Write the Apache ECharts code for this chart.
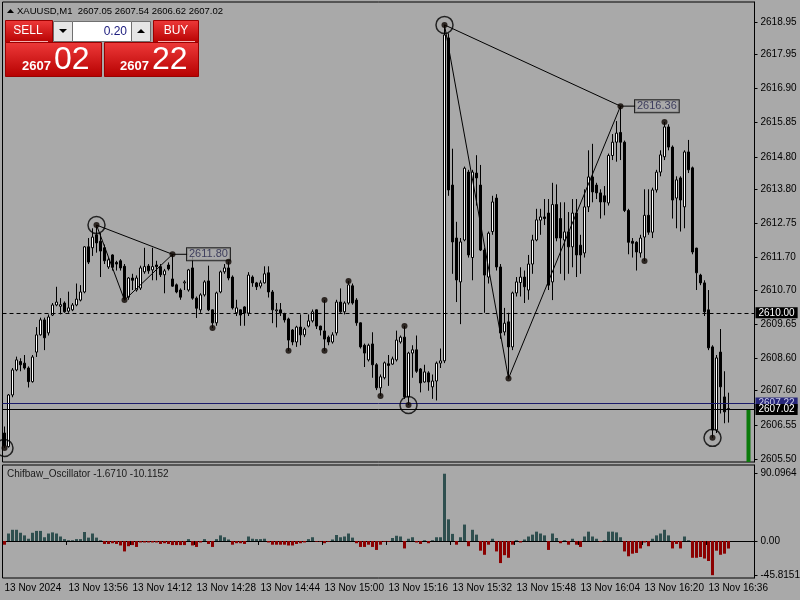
<!DOCTYPE html>
<html><head><meta charset="utf-8">
<script src="https://cdn.jsdelivr.net/npm/echarts@6/dist/echarts.min.js"></script>
<style>html,body{margin:0;padding:0;background:#a9a9a9}#c{width:800px;height:600px}</style>
</head><body><div id="c"></div>
<script>
// ---- data ----
const priceTicks = [2618.95,2617.95,2616.90,2615.85,2614.80,2613.80,2612.75,2611.70,2610.70,2609.65,2608.60,2607.60,2606.55,2605.50];
const oscTicks = [90.0964, 0, -45.8151];
const timeLabels = ['13 Nov 2024','13 Nov 13:56','13 Nov 14:12','13 Nov 14:28','13 Nov 14:44','13 Nov 15:00','13 Nov 15:16','13 Nov 15:32','13 Nov 15:48','13 Nov 16:04','13 Nov 16:20','13 Nov 16:36'];
// [open, high, low, close] per M1 bar from 13:40
const ohlc = [
[2606.30,2606.50,2605.84,2605.90],[2605.88,2607.50,2605.85,2607.47],[2607.47,2608.30,2607.40,2608.24],[2608.24,2608.65,2608.20,2608.55],
[2608.50,2608.60,2608.20,2608.40],[2608.45,2608.70,2608.25,2608.30],[2608.30,2608.35,2607.70,2607.88],[2607.88,2608.70,2607.85,2608.64],
[2608.79,2609.56,2608.64,2609.32],[2609.32,2609.85,2609.30,2609.78],[2609.78,2609.85,2608.85,2609.23],[2609.38,2609.95,2609.30,2609.87],
[2609.93,2610.30,2609.90,2610.24],[2610.24,2610.80,2610.20,2610.33],[2610.20,2610.45,2609.95,2610.25],[2610.30,2610.35,2610.00,2610.03],
[2610.05,2610.65,2610.00,2610.15],[2610.09,2610.30,2610.05,2610.24],[2610.24,2610.90,2610.20,2610.42],[2610.39,2610.85,2610.35,2610.64],
[2610.64,2612.05,2610.60,2612.03],[2612.03,2612.30,2611.50,2611.56],[2612.00,2612.60,2611.75,2612.33],[2612.40,2612.70,2611.85,2612.15],
[2612.20,2612.45,2611.10,2611.90],[2612.00,2612.10,2611.50,2611.60],[2611.41,2611.70,2611.35,2611.63],[2611.78,2611.80,2611.30,2611.40],
[2611.55,2611.60,2611.30,2611.50],[2611.60,2611.65,2611.30,2611.38],[2611.43,2611.50,2610.39,2610.45],[2610.48,2611.10,2610.40,2611.07],
[2611.07,2611.20,2610.70,2611.00],[2610.70,2611.15,2610.65,2611.07],[2610.76,2611.45,2610.70,2611.38],[2611.26,2612.00,2611.20,2611.42],
[2611.44,2611.50,2611.20,2611.29],[2611.32,2612.00,2611.00,2611.42],[2611.47,2611.60,2611.00,2611.42],[2611.42,2611.50,2611.10,2611.17],
[2611.17,2611.35,2610.60,2611.29],[2611.47,2611.55,2611.30,2611.35],[2611.04,2611.80,2610.80,2610.82],[2610.86,2610.90,2610.60,2610.64],
[2610.70,2610.75,2610.40,2610.48],[2610.92,2611.00,2610.70,2610.95],[2610.70,2611.35,2610.65,2611.32],[2611.38,2611.75,2610.40,2610.45],
[2610.45,2610.50,2609.84,2610.14],[2610.09,2610.60,2610.00,2610.55],[2610.55,2611.00,2610.50,2610.95],[2610.98,2611.45,2610.05,2610.09],
[2610.09,2610.10,2609.53,2609.69],[2609.69,2610.65,2609.60,2610.61],[2610.64,2611.30,2610.60,2611.26],[2611.26,2611.50,2611.20,2611.38],
[2611.38,2611.57,2611.00,2611.07],[2611.10,2611.15,2610.10,2610.15],[2610.00,2610.40,2609.90,2610.15],[2610.09,2610.10,2609.60,2609.93],
[2610.18,2610.20,2609.60,2609.99],[2609.99,2611.25,2609.90,2611.16],[2611.10,2611.15,2610.80,2610.92],[2610.92,2610.95,2610.70,2610.80],
[2610.82,2611.00,2610.75,2610.92],[2610.92,2611.43,2610.90,2611.20],[2611.23,2611.43,2610.47,2610.64],[2610.64,2610.70,2609.68,2610.09],
[2610.06,2610.30,2609.55,2610.09],[2610.09,2610.30,2609.90,2609.99],[2609.96,2610.00,2609.70,2609.78],[2609.81,2609.85,2608.83,2609.16],
[2609.47,2609.50,2609.00,2609.10],[2609.10,2609.60,2608.95,2609.56],[2609.56,2609.95,2609.00,2609.32],[2609.32,2609.55,2609.25,2609.50],
[2609.59,2609.95,2609.55,2609.75],[2609.75,2610.10,2609.70,2610.03],[2610.09,2610.10,2609.50,2609.59],[2609.59,2609.60,2609.30,2609.47],
[2609.44,2610.39,2608.83,2609.19],[2609.25,2609.30,2609.00,2609.10],[2609.10,2609.40,2609.05,2609.32],[2609.38,2610.40,2609.30,2610.33],
[2610.33,2610.75,2610.00,2610.03],[2610.03,2610.35,2609.95,2610.30],[2610.30,2610.98,2610.25,2610.86],[2610.83,2610.90,2610.25,2610.30],
[2610.39,2610.45,2609.60,2609.69],[2609.69,2609.70,2608.90,2608.95],[2609.00,2609.05,2608.33,2608.76],[2608.55,2609.05,2608.50,2609.00],
[2609.04,2609.40,2608.00,2608.40],[2608.40,2608.45,2607.62,2607.69],[2607.69,2608.10,2607.44,2608.03],[2608.00,2608.50,2607.95,2608.46],
[2608.43,2608.70,2607.75,2608.38],[2608.42,2608.65,2608.40,2608.58],[2608.55,2609.45,2608.50,2609.16],[2609.10,2609.30,2609.05,2609.25],
[2609.25,2609.59,2607.35,2607.41],[2607.41,2608.80,2607.16,2608.76],[2608.76,2609.00,2608.00,2608.86],[2608.86,2609.30,2608.15,2608.20],
[2608.27,2608.30,2607.55,2607.84],[2607.87,2608.40,2607.85,2608.18],[2608.15,2608.20,2607.60,2607.87],[2607.72,2608.10,2607.35,2607.90],
[2607.90,2608.50,2607.30,2608.45],[2608.45,2608.90,2608.30,2608.52],[2608.52,2618.86,2608.45,2618.55],[2618.46,2618.60,2613.60,2613.78],
[2613.93,2615.05,2611.20,2612.18],[2612.30,2612.80,2610.33,2611.01],[2610.95,2612.30,2609.65,2612.18],[2612.24,2614.50,2612.20,2614.45],
[2614.33,2614.40,2611.70,2611.78],[2611.70,2614.40,2611.00,2614.33],[2614.30,2614.85,2613.30,2614.15],[2613.93,2614.55,2611.90,2611.93],
[2611.93,2612.00,2610.00,2611.16],[2611.10,2612.50,2610.90,2612.45],[2612.50,2613.60,2612.40,2613.41],[2613.53,2613.65,2611.30,2611.41],
[2611.41,2611.50,2609.20,2609.38],[2609.41,2610.15,2609.30,2609.68],[2609.72,2610.00,2607.98,2608.95],[2608.95,2610.65,2608.85,2610.61],
[2610.61,2611.10,2610.50,2610.95],[2610.93,2611.40,2610.50,2611.10],[2611.10,2611.30,2610.30,2610.80],[2610.70,2611.78,2610.40,2611.50],
[2611.50,2612.40,2611.20,2612.24],[2612.24,2613.20,2612.20,2612.86],[2612.85,2613.20,2612.40,2612.95],[2612.95,2613.50,2612.70,2612.90],
[2613.07,2613.50,2610.70,2610.85],[2610.95,2614.00,2610.39,2613.33],[2613.33,2613.95,2612.20,2612.30],[2612.90,2613.40,2611.20,2612.30],
[2612.24,2613.40,2611.00,2612.49],[2612.49,2613.10,2611.20,2612.03],[2612.03,2613.50,2611.40,2613.07],[2613.07,2613.50,2611.10,2611.78],
[2612.08,2612.40,2611.20,2611.78],[2611.84,2613.80,2611.70,2613.26],[2613.26,2615.00,2613.10,2614.18],[2614.18,2615.20,2613.40,2613.72],
[2613.93,2614.00,2613.50,2613.69],[2613.69,2613.80,2612.90,2613.41],[2613.60,2613.90,2613.00,2613.41],[2613.38,2614.90,2613.30,2614.84],
[2614.84,2615.50,2614.70,2615.25],[2615.25,2615.90,2614.65,2615.53],[2615.55,2616.36,2614.70,2615.25],[2615.25,2615.30,2613.10,2613.15],
[2613.15,2613.20,2611.80,2612.17],[2612.20,2612.30,2611.70,2612.14],[2612.17,2612.20,2611.30,2611.87],[2611.84,2612.40,2611.70,2612.30],
[2612.33,2613.80,2611.59,2613.00],[2613.00,2613.80,2612.40,2612.48],[2612.48,2613.85,2612.30,2613.78],[2613.78,2614.40,2613.70,2614.33],
[2614.33,2615.00,2614.20,2614.86],[2614.80,2615.87,2614.70,2615.72],[2615.72,2615.80,2615.00,2615.10],[2615.10,2615.15,2612.90,2613.47],
[2613.53,2614.20,2612.60,2614.09],[2614.15,2614.20,2612.50,2613.47],[2613.26,2615.00,2612.60,2614.95],[2614.95,2615.32,2614.30,2614.40],
[2614.46,2614.50,2611.80,2611.87],[2611.99,2612.00,2610.70,2611.23],[2611.16,2611.20,2610.85,2610.92],[2610.92,2611.00,2609.90,2610.03],
[2610.09,2610.70,2608.85,2608.92],[2608.95,2609.00,2606.15,2606.39],[2606.39,2608.70,2606.30,2608.61],[2608.79,2609.50,2606.90,2607.72],
[2607.41,2608.20,2606.60,2606.95],[2607.05,2607.54,2606.62,2607.02]
];
const oscValues = [
-5,10,15,15,11,7.5,3,11,13.5,13.5,5,10,11.5,10,6,2.5,1,1,2.5,2.5,12,4.5,10,4.5,1,-4,-4,-3,-4,-6,-14,-7,-5.5,-8,-2,-2,-2,-2,-2,-4,
-3,-4,-5.5,-5.5,-5.5,-5.5,2.5,-6,-8,-2,2.5,-4,-8,2.5,7.5,5,2,-5,-3,-3,-4,6,3,2.5,2.5,3,-2,-5,-5,-5,-5,-6,-6,-4,-3,-2,2.5,5,-1,-1,
-3,-1,2,8,5,6,10,4.5,-3,-8,-8,-5,-8,-12,-5,-1,-1,4,7,
6,-10,3,5,-2,-4,1,-3,1,5,5,90.0964,29,9.5,-5,5,22,-7,15,8.5,-13,-18.5,-5,3,-14,-29.6,-19,-22.5,-5,1,-2,2,6,8.5,12.5,10,7.5,-12,10,4,
-3,1,-5,3,-5,-8,6,12.5,6,3,-1,1,12.5,12.5,11.5,5,-14,-20.5,-17,-16,-10,-2,-7,3,7.5,10,15,7.5,-10,-4,-10,6,1,-22.5,-22.5,-21.5,-23.5,-26.8,
-45.8151,-13,-18.5,-17,-10.1152
];
const levelDashed = 2610.00, askPrice = 2607.22, bidPrice = 2607.02;
const swingCircles = [[0,2605.84],[23,2612.70],[101,2607.16],[110,2618.86],[177,2606.15]];
const swingDots = [[0,2605.84],[23,2612.70],[30,2610.39],[42,2611.80],[52,2609.53],[56,2611.57],[71,2608.83],[80,2610.39],[80,2608.83],
  [86,2610.98],[94,2607.44],[100,2609.59],[101,2607.16],[110,2618.86],[126,2607.98],[154,2616.36],[160,2611.59],[165,2615.87],[177,2606.15]];
const patternA = [[42,2611.80],[23,2612.70],[30,2610.39],[42,2611.80]];
const patternB = [[154,2616.36],[110,2618.86],[126,2607.98],[154,2616.36]];
const tagA = [[42,2611.80],[46,2611.80]];
const tagB = [[154,2616.36],[158,2616.36]];
const liveBar = [186, 2605.41, 2607.02, 2605.41, 2618.83]; // [index, open, close, low, high]

// ---- build ----
const NCAT = 188;
const cats = Array.from({length: NCAT}, (_, i) => String(i));
const candleData = ohlc.map(r => [r[0], r[3], r[2], r[1]]);
const liveData = cats.map((c, i) => i === liveBar[0] ? liveBar.slice(1) : '-');
const FONT = 'Liberation Sans';
const chart = echarts.init(document.getElementById('c'), null, {renderer: 'canvas'});

function redGrad() {
  return new echarts.graphic.LinearGradient(0, 0, 0, 1, [{offset: 0, color: '#ee3a3a'}, {offset: 1, color: '#b60000'}]);
}

const option = {
  animation: false,
  backgroundColor: '#a9a9a9',
  textStyle: {fontFamily: FONT},
  grid: [
    {left: 2.5, top: 2, width: 752, height: 460, show: true, borderColor: '#000', borderWidth: 1, backgroundColor: 'transparent', containLabel: false, outerBoundsMode: 'none'},
    {left: 2.5, top: 465, width: 752, height: 113, show: true, borderColor: '#000', borderWidth: 1, backgroundColor: 'transparent', containLabel: false, outerBoundsMode: 'none'}
  ],
  xAxis: [
    {type: 'category', gridIndex: 0, data: cats, boundaryGap: true, axisLine: {show: false}, axisTick: {show: false}, axisLabel: {show: false}, splitLine: {show: false}},
    {type: 'category', gridIndex: 1, data: cats, boundaryGap: true,
      axisLine: {show: true, lineStyle: {color: '#000'}},
      axisTick: {show: true, interval: 15, length: 4, lineStyle: {color: '#000'}},
      axisLabel: {interval: 15, align: 'left', margin: 5, fontSize: 10, color: '#000', fontFamily: FONT, hideOverlap: false,
        formatter: (v, i) => (i % 16 === 0 && timeLabels[i / 16]) ? timeLabels[i / 16] : ''},
      splitLine: {show: false}}
  ],
  yAxis: [
    {type: 'value', gridIndex: 0, position: 'right', min: 2605.407, max: 2619.565, scale: true,
      axisLine: {show: true, lineStyle: {color: '#000'}},
      axisTick: {show: true, customValues: priceTicks, length: 3, lineStyle: {color: '#000'}},
      axisLabel: {customValues: priceTicks, formatter: v => v.toFixed(2), margin: 6, fontSize: 10, color: '#000', fontFamily: FONT},
      splitLine: {show: false}},
    {type: 'value', gridIndex: 1, position: 'right', min: -49.6, max: 101.8,
      axisLine: {show: true, lineStyle: {color: '#000'}},
      axisTick: {show: true, customValues: oscTicks, length: 3, lineStyle: {color: '#000'}},
      axisLabel: {customValues: oscTicks, formatter: v => v === 0 ? '0.00' : String(v), margin: 6, fontSize: 10, color: '#000', fontFamily: FONT},
      splitLine: {show: false}}
  ],
  series: [
    {type: 'candlestick', xAxisIndex: 0, yAxisIndex: 0, barWidth: 2, data: candleData, z: 3,
      itemStyle: {color: '#fff', color0: '#000', borderColor: '#000', borderColor0: '#000', borderWidth: 1},
      markLine: {silent: true, symbol: ['none', 'none'], animation: false,
        label: {position: 'end', distance: 1, fontSize: 10, fontFamily: FONT, padding: [1, 3, 0, 3], lineHeight: 10},
        data: [
          {yAxis: levelDashed, lineStyle: {color: '#000', type: [4, 3], width: 1}, label: {formatter: levelDashed.toFixed(2), backgroundColor: '#000', color: '#fff'}},
          {yAxis: askPrice, lineStyle: {color: '#1a1a6a', type: 'solid', width: 1}, label: {formatter: askPrice.toFixed(2), backgroundColor: '#26267a', color: '#c8c8e8'}},
          {yAxis: bidPrice, lineStyle: {color: '#000', type: 'solid', width: 1}, label: {formatter: bidPrice.toFixed(2), backgroundColor: '#000', color: '#fff'}}
        ]}},
    {type: 'candlestick', xAxisIndex: 0, yAxisIndex: 0, barWidth: 4, data: liveData, z: 2,
      itemStyle: {color: '#0a7a0a', color0: '#0a7a0a', borderColor: '#0a7a0a', borderColor0: '#0a7a0a', borderWidth: 0}},
    {type: 'line', xAxisIndex: 0, yAxisIndex: 0, data: patternA, symbol: 'none', lineStyle: {color: '#000', width: 1}, z: 5, silent: true},
    {type: 'line', xAxisIndex: 0, yAxisIndex: 0, data: patternB, symbol: 'none', lineStyle: {color: '#000', width: 1}, z: 5, silent: true},
    {type: 'line', xAxisIndex: 0, yAxisIndex: 0, data: tagA, symbol: 'none', lineStyle: {color: '#000', width: 1}, z: 5, silent: true},
    {type: 'line', xAxisIndex: 0, yAxisIndex: 0, data: tagB, symbol: 'none', lineStyle: {color: '#000', width: 1}, z: 5, silent: true},
    {type: 'scatter', xAxisIndex: 0, yAxisIndex: 0, data: [tagA[1], tagB[1]], symbolSize: 1, itemStyle: {color: 'rgba(0,0,0,0)'}, z: 6,
      label: {show: true, position: 'right', distance: 0, offset: [-2, 0], formatter: p => p.value[1].toFixed(2),
        color: '#23234a', fontSize: 11, fontFamily: FONT, borderColor: '#000', borderWidth: 1, padding: [1, 2, 0, 2], backgroundColor: '#a9a9a9'}},
    {type: 'scatter', xAxisIndex: 0, yAxisIndex: 0, data: swingDots, symbol: 'circle', symbolSize: 6, itemStyle: {color: '#0d0500'}, z: 7},
    {type: 'scatter', xAxisIndex: 0, yAxisIndex: 0, data: swingCircles, symbol: 'circle', symbolSize: 17,
      itemStyle: {color: 'rgba(0,0,0,0)', borderColor: '#000', borderWidth: 1.5}, z: 7},
    {type: 'bar', xAxisIndex: 1, yAxisIndex: 1, barWidth: 3,
      data: oscValues.map(v => ({value: v, itemStyle: {color: v >= 0 ? '#2f4f4f' : '#8b0000'}}))}
  ],
  graphic: [
    {type: 'polygon', shape: {points: [[7, 13], [10.5, 9], [14, 13]]}, style: {fill: '#000'}},
    {type: 'text', x: 17, y: 11, style: {text: 'XAUUSD,M1  2607.05 2607.54 2606.62 2607.02', fill: '#000', font: '9.5px ' + FONT, verticalAlign: 'middle', textVerticalAlign: 'middle'}},
    // SELL button
    {type: 'rect', shape: {x: 5.5, y: 20.5, width: 47, height: 22}, style: {fill: redGrad(), stroke: '#9a0000', lineWidth: 1}},
    {type: 'text', x: 28, y: 31, style: {text: 'SELL', fill: '#fff', font: '12px ' + FONT, align: 'center', verticalAlign: 'middle', textAlign: 'center', textVerticalAlign: 'middle'}},
    {type: 'line', shape: {x1: 10, y1: 41.5, x2: 48, y2: 41.5}, style: {stroke: '#f3b0b0', lineWidth: 1}},
    // lot size box
    {type: 'rect', shape: {x: 53.5, y: 21.5, width: 19, height: 20}, style: {fill: '#e6e6e6', stroke: '#707070', lineWidth: 1}},
    {type: 'polygon', shape: {points: [[59, 29], [67, 29], [63, 33]]}, style: {fill: '#000'}},
    {type: 'rect', shape: {x: 72.5, y: 21.5, width: 59, height: 20}, style: {fill: '#fff', stroke: '#707070', lineWidth: 1}},
    {type: 'text', x: 127, y: 31.5, style: {text: '0.20', fill: '#202080', font: '12px ' + FONT, align: 'right', verticalAlign: 'middle', textAlign: 'right', textVerticalAlign: 'middle'}},
    {type: 'rect', shape: {x: 131.5, y: 21.5, width: 19, height: 20}, style: {fill: '#e6e6e6', stroke: '#707070', lineWidth: 1}},
    {type: 'polygon', shape: {points: [[137, 33], [145, 33], [141, 29]]}, style: {fill: '#000'}},
    // BUY button
    {type: 'rect', shape: {x: 153.5, y: 20.5, width: 45, height: 22}, style: {fill: redGrad(), stroke: '#9a0000', lineWidth: 1}},
    {type: 'text', x: 176, y: 31, style: {text: 'BUY', fill: '#fff', font: '12px ' + FONT, align: 'center', verticalAlign: 'middle', textAlign: 'center', textVerticalAlign: 'middle'}},
    {type: 'line', shape: {x1: 158, y1: 41.5, x2: 195, y2: 41.5}, style: {stroke: '#f3b0b0', lineWidth: 1}},
    // price panels
    {type: 'rect', shape: {x: 5.5, y: 42.5, width: 96, height: 34}, style: {fill: redGrad(), stroke: '#9a0000', lineWidth: 1}},
    {type: 'text', x: 22, y: 66, style: {text: '2607', fill: '#fff', font: 'bold 13px ' + FONT, verticalAlign: 'middle', textVerticalAlign: 'middle'}},
    {type: 'text', x: 54, y: 60, style: {text: '02', fill: '#fff', font: '32px ' + FONT, verticalAlign: 'middle', textVerticalAlign: 'middle'}},
    {type: 'rect', shape: {x: 104.5, y: 42.5, width: 94, height: 34}, style: {fill: redGrad(), stroke: '#9a0000', lineWidth: 1}},
    {type: 'text', x: 120, y: 66, style: {text: '2607', fill: '#fff', font: 'bold 13px ' + FONT, verticalAlign: 'middle', textVerticalAlign: 'middle'}},
    {type: 'text', x: 152, y: 60, style: {text: '22', fill: '#fff', font: '32px ' + FONT, verticalAlign: 'middle', textVerticalAlign: 'middle'}},
    // oscillator title
    {type: 'text', x: 7, y: 474, style: {text: 'Chifbaw_Oscillator -1.6710 -10.1152', fill: '#1a1a1a', font: '10px ' + FONT, verticalAlign: 'middle', textVerticalAlign: 'middle'}}
  ]
};
chart.setOption(option);
</script>
</body></html>
